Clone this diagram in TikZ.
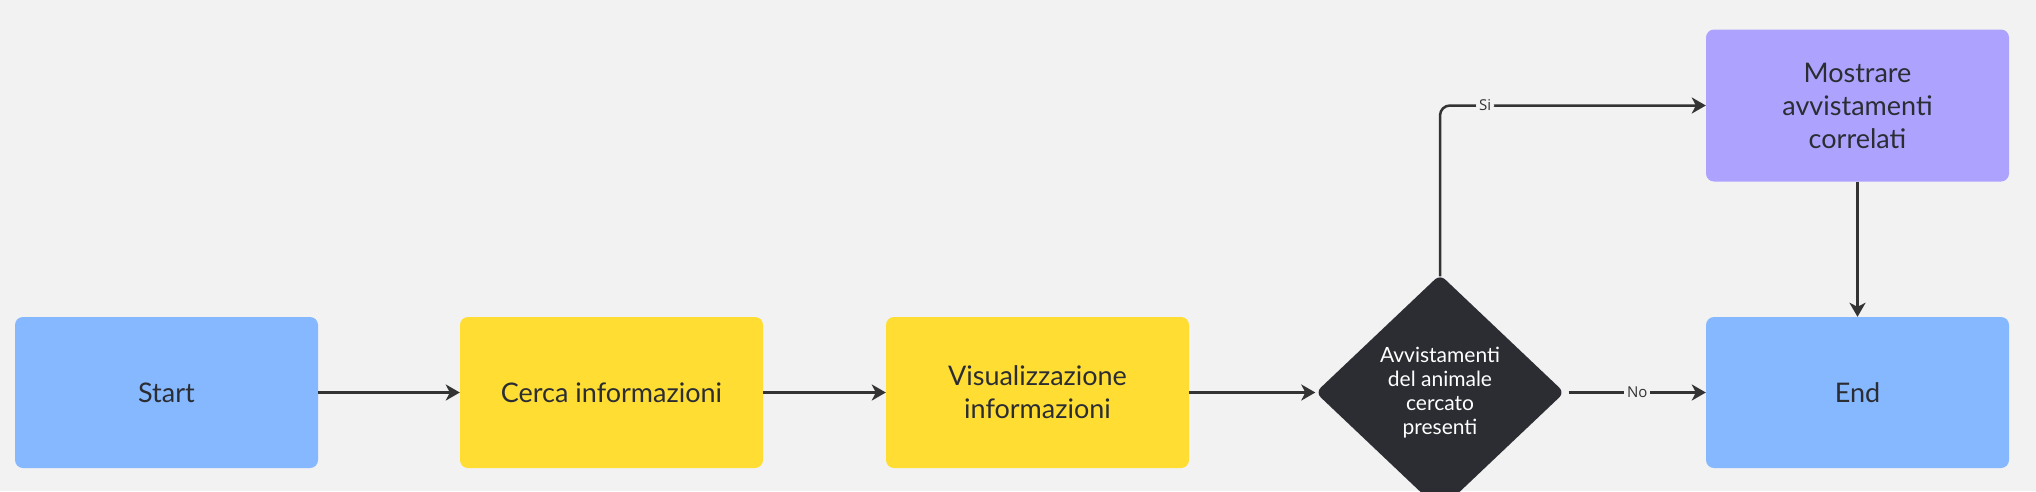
\documentclass[tikz,border=0pt]{standalone}
\usepackage{fontspec}
\setmainfont{Lato}
\newfontfamily\lblfont{Open Sans}
\usepackage{xcolor}
\usepackage{tikz}
\usetikzlibrary{shapes.geometric, arrows.meta}
\definecolor{bgcol}{HTML}{F2F2F2}
\definecolor{inkcol}{HTML}{2B2D33}
\definecolor{bluecol}{HTML}{86B8FF}
\definecolor{yellowcol}{HTML}{FFDD33}
\definecolor{purplecol}{HTML}{ADA3FF}
\definecolor{linecol}{HTML}{333333}
\tikzstyle{terminal} = [rectangle, rounded corners=8pt, minimum width=303pt, minimum height=151pt, fill=bluecol, text=inkcol, align=center, font=\fontsize{27}{33}\selectfont]
\tikzstyle{process} = [rectangle, rounded corners=8pt, minimum width=303pt, minimum height=151pt, fill=yellowcol, text=inkcol, align=center, font=\fontsize{27}{33}\selectfont]
\tikzstyle{output} = [rectangle, rounded corners=8pt, minimum width=303pt, minimum height=152pt, fill=purplecol, text=inkcol, align=center, font=\fontsize{27}{33}\selectfont]
\tikzstyle{decision} = [diamond, rounded corners=7pt, minimum width=249pt, minimum height=236pt, inner sep=0pt, fill=inkcol, text=white, align=center, font=\fontsize{21}{24}\selectfont]
\tikzstyle{arrow} = [line width=2.5pt, draw=linecol, -{Stealth[length=14pt,width=16pt,inset=4pt]}]
\tikzstyle{lbl} = [fill=bgcol, inner sep=3pt, text=linecol, font=\lblfont\fontsize{15}{18}\selectfont]

\begin{document}
\begin{tikzpicture}[x=1pt,y=-1pt]
	% Background and frame:
	\fill[bgcol] (0,0) rectangle (2036,491);
	\useasboundingbox (0,0) rectangle (2036,491);
	
	% Blocks:
	\node (start) [terminal] at (166.5,392.5) {Start};
	\node (search) [process] at (611.5,392.5) {Cerca informazioni};
	\node (view) [process] at (1037.5,392.5) {Visualizzazione\\informazioni};
	\node (check) [decision] at (1440,392.5) {Avvistamenti\\del animale\\cercato\\presenti};
	\node (show) [output] at (1857.5,105.5) {Mostrare\\avvistamenti\\correlati};
	\node (finish) [terminal] at (1857.5,392.5) {End};
	
	% Connectors:
	\draw [arrow] (start) -- (search);
	\draw [arrow] (search) -- (view);
	\draw [arrow] (view) -- (check);
	\draw [arrow, rounded corners=10pt] ([yshift=-2pt]check.north) |- node [lbl, pos=0.585] {Si} (show.west);
	\draw [arrow] ([xshift=4pt]check.east) -- node [lbl] {No} (finish);
	\draw [arrow] (show) -- (finish);
\end{tikzpicture}
\end{document}
